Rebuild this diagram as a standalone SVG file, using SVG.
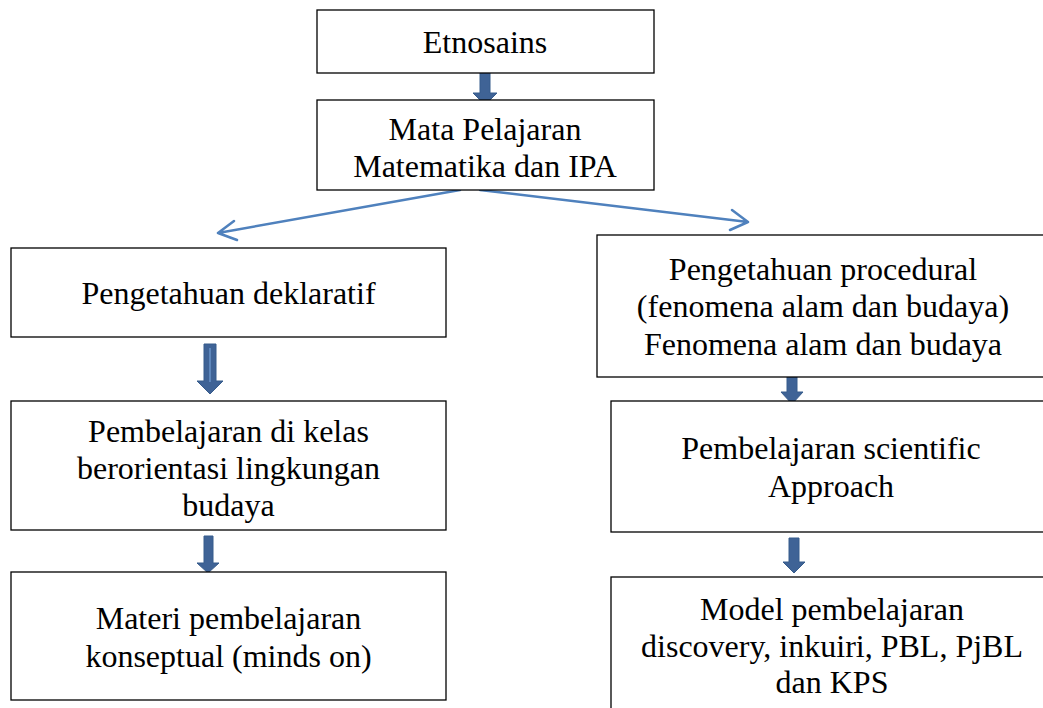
<svg xmlns="http://www.w3.org/2000/svg" width="1043" height="708" viewBox="0 0 1043 708">
<style>
.box{fill:#fff;stroke:#000;stroke-width:1.3}
.t{font-family:"Liberation Serif","Times New Roman",serif;font-size:32px;fill:#000;text-anchor:middle}
.blk{fill:#3F6396;stroke:#375C8C;stroke-width:1}
.ln{fill:none;stroke:#4F81BD;stroke-width:2.5;stroke-linecap:round;stroke-linejoin:round}
</style>
<rect width="1043" height="708" fill="#fff"/>
<g id="connectors">
<path class="blk" d="M480,72 H490 V93 H497 L485,105 L473,93 H480 Z"/>
<path class="ln" d="M460,190 L218,233 M234,221 L218,233 L237,240"/>
<path class="ln" d="M480,190 L748,222 M732,210 L748,222 L730,230"/>
<path class="blk" d="M204,344 H216 V381 H223 L210,394 L197,381 H204 Z"/>
<line x1="210" y1="348" x2="210" y2="382" stroke="#6A93C8" stroke-width="1.5"/>
<path class="blk" d="M787,377 H797 V392 H803 L792,404 L781,392 H787 Z"/>
<path class="blk" d="M204,536 H213 V563 H219 L208,573 L197,563 H204 Z"/>
<path class="blk" d="M789,538 H799 V562 H805 L794,573 L783,562 H789 Z"/>
</g>
<g id="n1"><rect class="box" x="317" y="10" width="337" height="63"/><text class="t" x="485" y="53">Etnosains</text></g>
<g id="n2"><rect class="box" x="317" y="100" width="337" height="90"/><text class="t" x="485" y="140">Mata Pelajaran</text><text class="t" x="485" y="177">Matematika dan IPA</text></g>
<g id="n3"><rect class="box" x="11" y="248" width="435" height="89"/><text class="t" x="228.5" y="304">Pengetahuan deklaratif</text></g>
<g id="n4"><rect class="box" x="597" y="235" width="460" height="142"/><text class="t" x="823" y="280">Pengetahuan procedural</text><text class="t" x="823" y="317">(fenomena alam dan budaya)</text><text class="t" x="823" y="355">Fenomena alam dan budaya</text></g>
<g id="n5"><rect class="box" x="11" y="401" width="435" height="129"/><text class="t" x="228.5" y="442">Pembelajaran di kelas</text><text class="t" x="228.5" y="479">berorientasi lingkungan</text><text class="t" x="228.5" y="516">budaya</text></g>
<g id="n6"><rect class="box" x="611" y="401" width="446" height="131"/><text class="t" x="831" y="459">Pembelajaran scientific</text><text class="t" x="831" y="497">Approach</text></g>
<g id="n7"><rect class="box" x="11" y="572" width="435" height="128"/><text class="t" x="228.5" y="629">Materi pembelajaran</text><text class="t" x="228.5" y="667">konseptual (minds on)</text></g>
<g id="n8"><rect class="box" x="611" y="577" width="446" height="150"/><text class="t" x="832" y="620">Model pembelajaran</text><text class="t" x="832" y="657">discovery, inkuiri, PBL, PjBL</text><text class="t" x="832" y="693">dan KPS</text></g>
</svg>
